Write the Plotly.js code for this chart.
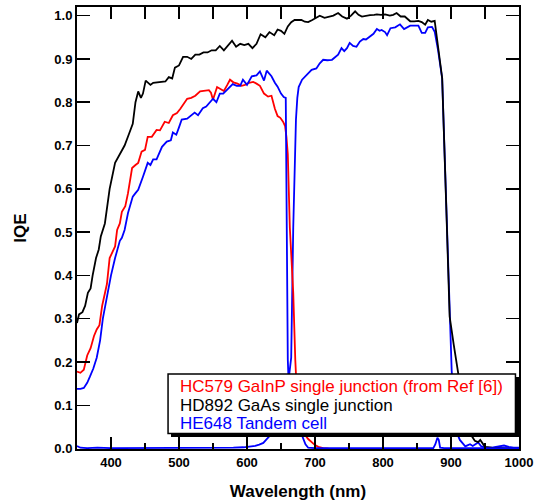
<!DOCTYPE html>
<html>
<head>
<meta charset="utf-8">
<script src="https://cdn.plot.ly/plotly-3.0.1.min.js"></script>
<style>html,body{margin:0;padding:0;background:#fff;}#chart{width:535px;height:504px;}</style>
</head>
<body>
<div id="chart"></div>
<script>
// HD892 GaAs single junction (black)
const wlBlack = [350,353,358,362,366,370,373,378,382,385,391,398,406,413,420,426,432,436,440,444,447,451,454,458,462,468,474,480,485,490,494,500,506,512,518,524,530,536,542,548,554,560,566,572,578,584,590,596,602,608,614,620,627,633,640,645,650,655,660,665,670,675,680,685,690,696,702,707,714,720,727,734,740,747,753,759,764,769,775,781,787,791,797,803,810,815,820,826,832,840,846,852,857,862,866,871,876,879,883,887,893,898,904,910,915,920,925,930,935,940,943,947,950,960,970,980,990,1000];
const iqeBlack = [0.29,0.31,0.315,0.33,0.36,0.37,0.40,0.44,0.46,0.49,0.52,0.60,0.66,0.68,0.70,0.725,0.75,0.80,0.825,0.81,0.82,0.85,0.845,0.84,0.845,0.846,0.846,0.848,0.858,0.855,0.88,0.885,0.905,0.905,0.90,0.91,0.91,0.915,0.915,0.92,0.92,0.93,0.92,0.93,0.942,0.928,0.935,0.932,0.935,0.925,0.935,0.957,0.95,0.962,0.955,0.968,0.965,0.958,0.975,0.985,0.99,0.99,0.99,0.986,0.985,0.99,0.995,1.0,0.995,0.997,1.0,1.006,0.998,0.993,1.0,1.01,1.002,0.998,1.0,1.001,1.002,1.003,1.002,1.003,1.0,1.002,1.006,0.998,0.998,0.987,0.987,0.988,0.985,0.979,0.99,0.986,0.988,0.95,0.90,0.856,0.56,0.305,0.24,0.18,0.12,0.08,0.05,0.03,0.018,0.015,0.02,0.01,0.004,0.002,0.001,0.001,0.0,0.0];

// HC579 GaInP single junction (red)
const wlRed = [350,355,360,365,370,375,379,383,387,394,398,406,409,413,416,421,425,431,436,440,445,450,454,460,467,472,479,485,491,497,502,506,512,518,524,531,538,544,547,550,556,562,566,571,575,580,586,592,597,603,609,614,619,625,631,636,641,645,649,653,656,658,660,663,668,671,674,677,681,686,690,695,700,705,712,720];
const iqeRed = [0.178,0.175,0.182,0.215,0.232,0.26,0.275,0.285,0.33,0.38,0.44,0.467,0.505,0.52,0.547,0.56,0.59,0.648,0.655,0.66,0.686,0.69,0.72,0.72,0.736,0.735,0.755,0.752,0.77,0.775,0.785,0.794,0.808,0.81,0.815,0.825,0.826,0.828,0.822,0.806,0.835,0.83,0.826,0.84,0.852,0.846,0.843,0.838,0.84,0.845,0.847,0.843,0.838,0.82,0.813,0.815,0.785,0.768,0.764,0.755,0.745,0.72,0.68,0.51,0.36,0.205,0.105,0.07,0.05,0.03,0.022,0.015,0.008,0.004,0.001,0.0];

// HE648 Tandem cell, top sub-cell (blue)
const wlTandemTop = [350,355,360,365,369,374,379,384,388,395,400,406,413,416,420,425,432,436,440,447,454,458,462,467,472,475,482,488,491,496,500,504,512,519,523,528,535,540,545,550,555,560,565,572,579,585,590,594,600,607,614,619,625,629,636,641,645,650,654,657,659,660,662,665,670,675,681,686,690,700,750,800,850,874,877,880,882,884,890,950,1000];
const iqeTandemTop = [0.138,0.138,0.14,0.152,0.166,0.185,0.21,0.25,0.30,0.36,0.40,0.44,0.48,0.487,0.505,0.544,0.582,0.59,0.598,0.628,0.66,0.655,0.668,0.668,0.685,0.697,0.709,0.712,0.73,0.725,0.742,0.76,0.762,0.77,0.776,0.77,0.786,0.79,0.80,0.808,0.80,0.82,0.82,0.83,0.842,0.838,0.838,0.852,0.84,0.86,0.862,0.871,0.85,0.873,0.86,0.845,0.836,0.82,0.812,0.81,0.51,0.205,0.12,0.08,0.06,0.05,0.03,0.01,0.002,0.001,0.001,0.001,0.001,0.001,0.01,0.025,0.02,0.002,0.001,0.001,0.001];

// HE648 Tandem cell, bottom sub-cell (blue)
const wlTandemBot = [350,355,365,380,400,420,440,460,480,500,520,540,560,580,595,605,612,618,624,629,634,640,646,652,657,662,665,668,670,672,674,676,681,688,695,702,707,712,718,725,730,734,739,743,747,751,756,761,766,771,775,781,786,791,795,798,803,806,811,818,825,831,837,840,846,852,857,862,866,872,876,881,887,894,901,905,909,913,917,921,925,928,932,936,940,944,950,960,966,972,978,985,992,1000];
const iqeTandemBot = [0.006,0.002,0.001,0.002,0.001,0.001,0.002,0.001,0.001,0.002,0.001,0.001,0.002,0.002,0.003,0.004,0.006,0.009,0.013,0.022,0.03,0.05,0.08,0.11,0.14,0.17,0.21,0.51,0.65,0.76,0.81,0.835,0.852,0.863,0.875,0.878,0.89,0.898,0.897,0.898,0.905,0.91,0.925,0.918,0.925,0.937,0.93,0.928,0.94,0.946,0.945,0.953,0.958,0.969,0.965,0.967,0.962,0.955,0.971,0.973,0.98,0.969,0.975,0.977,0.977,0.977,0.96,0.96,0.973,0.974,0.963,0.92,0.855,0.5,0.18,0.08,0.035,0.02,0.012,0.005,0.008,0.01,0.006,0.01,0.014,0.006,0.002,0.002,0.004,0.006,0.007,0.004,0.002,0.002];

const legendLabels = ["HC579 GaInP single junction (from Ref [6])", "HD892 GaAs single junction", "HE648 Tandem cell"];
const legendColors = ["#ff0000", "#000000", "#0000ff"];

const FONT = "Liberation Sans, Arial, Helvetica, sans-serif";
const LW = 1.8;

const traces = [
  {x: wlTandemBot, y: iqeTandemBot, mode: "lines", line: {color: "#0000ff", width: LW}, showlegend: false, hoverinfo: "skip"},
  {x: wlBlack, y: iqeBlack, mode: "lines", line: {color: "#000000", width: LW}, showlegend: false, hoverinfo: "skip"},
  {x: wlRed, y: iqeRed, mode: "lines", line: {color: "#ff0000", width: LW}, showlegend: false, hoverinfo: "skip"},
  {x: wlTandemTop, y: iqeTandemTop, mode: "lines", line: {color: "#0000ff", width: LW}, showlegend: false, hoverinfo: "skip"},
  {x: wlBlack, y: iqeBlack, xaxis: "x2", mode: "none", showlegend: false, hoverinfo: "skip"}
];

const annotations = legendLabels.map((t, i) => ({
  xref: "paper", yref: "paper", x: 0.2308, y: [0.1415, 0.0985, 0.0570][i],
  xanchor: "left", yanchor: "middle", showarrow: false, text: t,
  height: 17, valign: "middle", borderpad: 0,
  font: {family: FONT, size: 17, color: legendColors[i]}
}));

const layout = {
  width: 535, height: 504,
  margin: {l: 77, r: 16, t: 7, b: 55},
  paper_bgcolor: "#fff", plot_bgcolor: "#fff",
  showlegend: false,
  font: {family: FONT, color: "#000"},
  xaxis: {
    range: [350, 1000], tick0: 0, dtick: 100,
    ticks: "inside", ticklen: 12, tickwidth: 1.5, tickcolor: "#000",
    minor: {dtick: 50, tick0: 0, ticks: "inside", ticklen: 6, tickwidth: 1.5, tickcolor: "#000", showgrid: false},
    showline: true, linewidth: 2, linecolor: "#000",
    showgrid: false, zeroline: false,
    tickfont: {family: FONT, size: 13, weight: "bold"},
    title: {text: "Wavelength (nm)", font: {family: FONT, size: 17, weight: "bold"}, standoff: 17}
  },
  xaxis2: {
    range: [350, 1000], overlaying: "x", side: "top", anchor: "y",
    tick0: 0, dtick: 50, ticks: "inside", ticklen: 12, tickwidth: 1.5, tickcolor: "#000",
    showticklabels: false, showline: true, linewidth: 2, linecolor: "#000",
    showgrid: false, zeroline: false
  },
  yaxis: {
    range: [-0.001, 1.02], tick0: 0, dtick: 0.1, tickformat: ".1f",
    ticks: "inside", ticklen: 13, tickwidth: 1.5, tickcolor: "#000",
    showline: true, linewidth: 2, linecolor: "#000", mirror: "ticks",
    showgrid: false, zeroline: false,
    tickfont: {family: FONT, size: 13, weight: "bold"},
    title: {text: "IQE", font: {family: FONT, size: 17, weight: "bold"}, standoff: 23}
  },
  shapes: [
    {type: "rect", xref: "paper", yref: "paper", x0: 0.2127, x1: 1.0, y0: 0.0271, y1: 0.1627,
     fillcolor: "#000", line: {width: 0}, layer: "above"},
    {type: "rect", xref: "paper", yref: "paper", x0: 0.206, x1: 0.992, y0: 0.035, y1: 0.1695,
     fillcolor: "#fff", line: {color: "#000", width: 1.5}, layer: "above"}
  ],
  annotations: annotations
};

Plotly.newPlot("chart", traces, layout, {staticPlot: true, displayModeBar: false});
</script>
</body>
</html>
